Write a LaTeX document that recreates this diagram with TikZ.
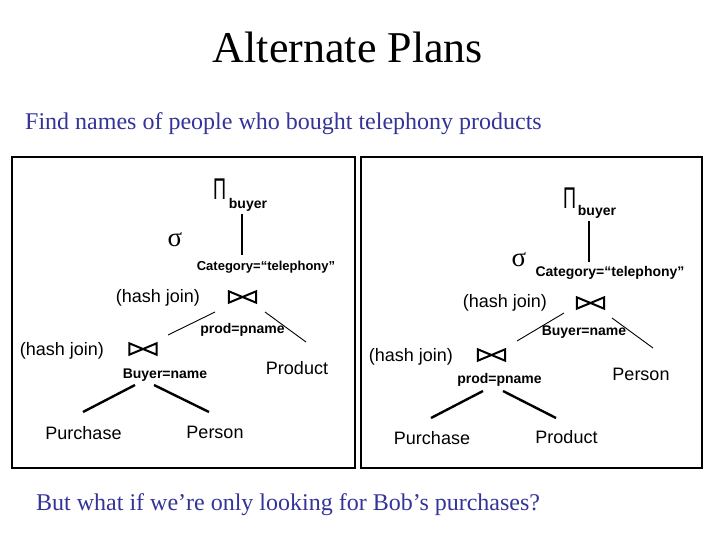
\documentclass[tikz,border=0pt]{standalone}
\usepackage{fontspec}
\setmainfont{Liberation Serif}
\setsansfont{Liberation Sans}
\definecolor{slideblue}{RGB}{51,51,153}
\tikzset{
  lbl/.style={font=\sffamily\fontsize{18}{18}\selectfont, inner sep=0pt, anchor=base},
  sub/.style={font=\sffamily\bfseries\fontsize{14}{14}\selectfont, inner sep=0pt, anchor=base},
  greek/.style={font=\sffamily\fontsize{30}{30}\selectfont, inner sep=0pt, anchor=base},
  sig/.style={font=\rmfamily\fontsize{27}{27}\selectfont, inner sep=0pt, anchor=base},
  joinbox/.style={minimum width=27pt, minimum height=11pt, inner sep=0pt},
  joinline/.style={line width=2pt, line join=miter},
  frame/.style={line width=2pt},
  thin/.style={line width=0.9pt},
  thick/.style={line width=2.4pt},
}
\newcommand{\drawjoin}[1]{%
  \draw[joinline] (#1.north west) -- (#1.south west) -- (#1.center) -- cycle
                  (#1.north east) -- (#1.south east) -- (#1.center) -- cycle;}
\begin{document}
\begin{tikzpicture}[x=1pt, y=-1pt]
\useasboundingbox (0,0) rectangle (720,540);
% titles
\node[font=\rmfamily\fontsize{44}{44}\selectfont, inner sep=0pt, anchor=base] (title) at (348,63) {Alternate Plans};
\node[font=\rmfamily\fontsize{24}{24}\selectfont, text=slideblue, inner sep=0pt, anchor=base west] (subtitle) at (25,130) {Find names of people who bought telephony products};
\node[font=\rmfamily\fontsize{24}{24}\selectfont, text=slideblue, inner sep=0pt, anchor=base west] (question) at (36,510) {But what if we’re only looking for Bob’s purchases?};
% frames
\draw[frame] (12,157) rectangle (355,468);
\draw[frame] (361,157) rectangle (702,468);

% ---------- left plan ----------
\node[greek] (lpi) at (219.5,200) {\scalebox{0.6}[1]{Π}};
\node[sub] (lbuyer) at (248,209) {buyer};
\node[sig] (lsig) at (175,247) {σ};
\node[sub, font=\sffamily\bfseries\fontsize{13}{13}\selectfont] (lcat) at (266,270) {Category=“telephony”};
\node[lbl] (lhj1) at (158,302) {(hash join)};
\node[joinbox] (lj1) at (242.5,297) {};
\drawjoin{lj1}
\node[sub] (lcond1) at (242.5,333) {prod=pname};
\node[lbl] (lhj2) at (62,355) {(hash join)};
\node[joinbox] (lj2) at (143,349) {};
\drawjoin{lj2}
\node[sub] (lcond2) at (165,378) {Buyer=name};
\node[lbl] (lproduct) at (297,374) {Product};
\node[lbl] (lpurchase) at (83.5,439) {Purchase};
\node[lbl] (lperson) at (215,438) {Person};

\coordinate (la1) at (242,214); \coordinate (la2) at (242,255);
\coordinate (lb1) at (215,312); \coordinate (lb2) at (168,335);
\coordinate (lc1) at (265,312); \coordinate (lc2) at (306,342);
\coordinate (ld1) at (135,385); \coordinate (ld2) at (83,412);
\coordinate (le1) at (154,385); \coordinate (le2) at (209,412);
\draw[line width=2pt] (la1) -- (la2);
\draw[thin] (lb1) -- (lb2);
\draw[thin] (lc1) -- (lc2);
\draw[thick] (ld1) -- (ld2);
\draw[thick] (le1) -- (le2);

% ---------- right plan ----------
\node[greek] (rpi) at (569.5,208) {\scalebox{0.6}[1]{Π}};
\node[sub] (rbuyer) at (597,215) {buyer};
\node[sig] (rsig) at (519,266) {σ};
\node[sub] (rcat) at (610,276) {Category=“telephony”};
\node[lbl] (rhj1) at (505,307) {(hash join)};
\node[joinbox] (rj1) at (590.5,303) {};
\drawjoin{rj1}
\node[sub] (rcond1) at (584,335) {Buyer=name};
\node[lbl] (rhj2) at (411,361) {(hash join)};
\node[joinbox] (rj2) at (491.5,355) {};
\drawjoin{rj2}
\node[sub] (rcond2) at (499.5,383) {prod=pname};
\node[lbl] (rperson) at (641,380) {Person};
\node[lbl] (rpurchase) at (432,444) {Purchase};
\node[lbl] (rproduct) at (566.5,443) {Product};

\coordinate (ra1) at (589,221); \coordinate (ra2) at (589,262);
\coordinate (rb1) at (564,313); \coordinate (rb2) at (517,341);
\coordinate (rc1) at (612,318); \coordinate (rc2) at (653,348);
\coordinate (rd1) at (483,391); \coordinate (rd2) at (431,418);
\coordinate (re1) at (503,391); \coordinate (re2) at (556,418);
\draw[line width=2pt] (ra1) -- (ra2);
\draw[thin] (rb1) -- (rb2);
\draw[thin] (rc1) -- (rc2);
\draw[thick] (rd1) -- (rd2);
\draw[thick] (re1) -- (re2);
\end{tikzpicture}
\end{document}
